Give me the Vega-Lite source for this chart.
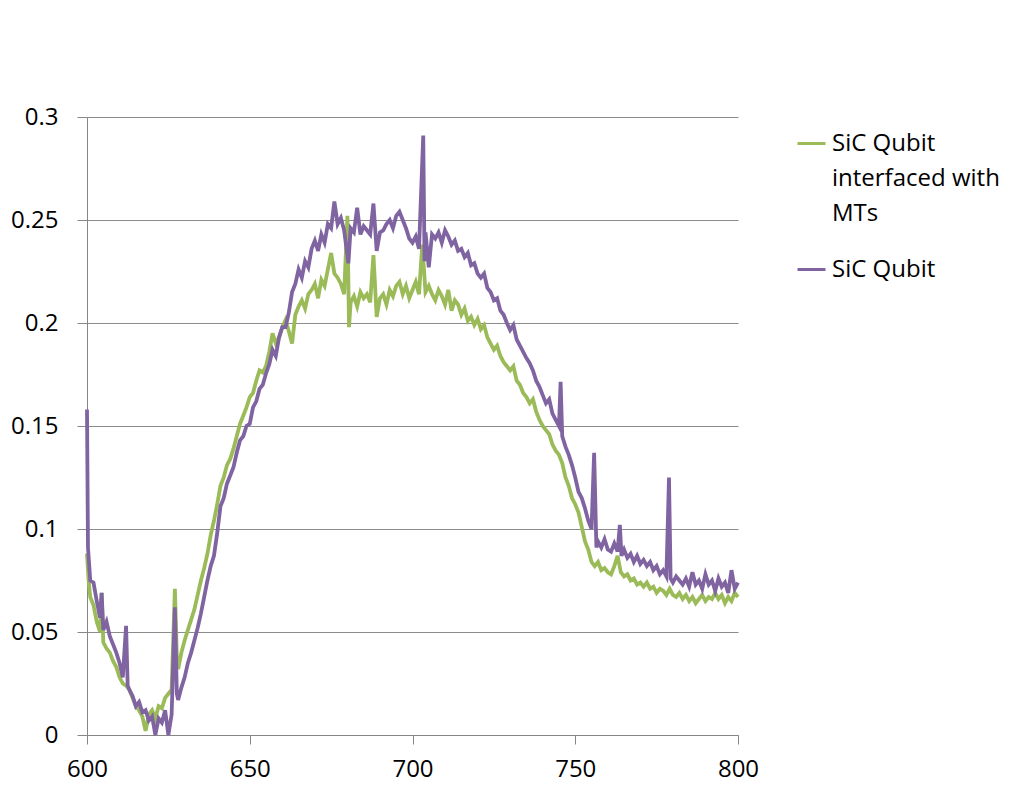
{
  "$schema": "https://vega.github.io/schema/vega-lite/v6.json",
  "width": 651,
  "height": 618,
  "autosize": {"type": "none"},
  "padding": {"left": 87, "top": 117, "right": 290, "bottom": 52},
  "background": "white",
  "config": {
    "view": {"stroke": null},
    "font": "Open Sans",
    "axis": {
      "labelFont": "Open Sans",
      "labelFontSize": 24,
      "labelColor": "#000000",
      "domainColor": "#868686",
      "tickColor": "#868686",
      "gridColor": "#8c8c8c",
      "title": null
    }
  },
  "encoding": {
    "x": {
      "field": "x",
      "type": "quantitative",
      "scale": {"domain": [600, 800], "nice": false, "zero": false},
      "axis": {"values": [600, 650, 700, 750, 800], "grid": false, "tickSize": 9, "labelPadding": 13, "labelFlush": false, "domainWidth": 1}
    },
    "y": {
      "field": "y",
      "type": "quantitative",
      "scale": {"domain": [0, 0.3], "nice": false},
      "axis": {"values": [0, 0.05, 0.1, 0.15, 0.2, 0.25, 0.3], "format": ".2~f", "grid": true, "tickSize": 10, "labelPadding": 19, "labelFlush": false, "domain": true}
    }
  },
  "layer": [
    {
      "data": {"values": [
        {"x":600,"y":0.088},{"x":600.5,"y":0.075},{"x":601,"y":0.067},{"x":602,"y":0.063},{"x":603,"y":0.055},{"x":604,"y":0.050},{"x":604.5,"y":0.069},{"x":605,"y":0.045},{"x":606,"y":0.042},{"x":607,"y":0.040},{"x":608,"y":0.036},{"x":609,"y":0.033},{"x":610,"y":0.028},{"x":611,"y":0.025},{"x":612,"y":0.024},{"x":613,"y":0.022},{"x":614,"y":0.018},{"x":615,"y":0.014},{"x":616,"y":0.012},{"x":617,"y":0.009},{"x":618,"y":0.002},{"x":619,"y":0.010},{"x":620,"y":0.012},{"x":621,"y":0.008},{"x":622,"y":0.014},{"x":623,"y":0.013},{"x":624,"y":0.018},{"x":625,"y":0.020},{"x":626,"y":0.022},{"x":627,"y":0.071},{"x":627.6,"y":0.038},{"x":628,"y":0.032},{"x":629,"y":0.040},{"x":630,"y":0.046},{"x":631,"y":0.051},{"x":632,"y":0.056},{"x":633,"y":0.061},{"x":634,"y":0.068},{"x":635,"y":0.075},{"x":636,"y":0.081},{"x":637,"y":0.088},{"x":638,"y":0.097},{"x":639,"y":0.104},{"x":640,"y":0.112},{"x":641,"y":0.121},{"x":642,"y":0.125},{"x":643,"y":0.131},{"x":644,"y":0.134},{"x":645,"y":0.139},{"x":646,"y":0.145},{"x":647,"y":0.151},{"x":648,"y":0.155},{"x":649,"y":0.159},{"x":650,"y":0.164},{"x":651,"y":0.166},{"x":652,"y":0.172},{"x":653,"y":0.177},{"x":654,"y":0.176},{"x":655,"y":0.179},{"x":656,"y":0.186},{"x":657,"y":0.195},{"x":658,"y":0.190},{"x":659,"y":0.193},{"x":660,"y":0.198},{"x":661,"y":0.2015},{"x":662,"y":0.196},{"x":663,"y":0.190},{"x":664,"y":0.204},{"x":665,"y":0.208},{"x":666,"y":0.211},{"x":667,"y":0.207},{"x":668,"y":0.214},{"x":669,"y":0.216},{"x":670,"y":0.219},{"x":671,"y":0.212},{"x":672,"y":0.221},{"x":673,"y":0.218},{"x":674,"y":0.226},{"x":675,"y":0.234},{"x":676,"y":0.224},{"x":677,"y":0.222},{"x":678,"y":0.219},{"x":679,"y":0.214},{"x":680,"y":0.252},{"x":680.5,"y":0.198},{"x":681,"y":0.210},{"x":682,"y":0.213},{"x":683,"y":0.208},{"x":684,"y":0.215},{"x":685,"y":0.212},{"x":686,"y":0.214},{"x":687,"y":0.210},{"x":688,"y":0.233},{"x":689,"y":0.203},{"x":690,"y":0.212},{"x":691,"y":0.214},{"x":692,"y":0.209},{"x":693,"y":0.216},{"x":694,"y":0.213},{"x":695,"y":0.218},{"x":696,"y":0.220},{"x":697,"y":0.214},{"x":698,"y":0.218},{"x":699,"y":0.212},{"x":700,"y":0.216},{"x":701,"y":0.220},{"x":702,"y":0.214},{"x":703,"y":0.238},{"x":704,"y":0.215},{"x":705,"y":0.218},{"x":706,"y":0.214},{"x":707,"y":0.211},{"x":708,"y":0.216},{"x":709,"y":0.213},{"x":710,"y":0.209},{"x":711,"y":0.216},{"x":712,"y":0.206},{"x":713,"y":0.211},{"x":714,"y":0.209},{"x":715,"y":0.204},{"x":716,"y":0.207},{"x":717,"y":0.201},{"x":718,"y":0.203},{"x":719,"y":0.199},{"x":720,"y":0.202},{"x":721,"y":0.197},{"x":722,"y":0.199},{"x":723,"y":0.193},{"x":724,"y":0.190},{"x":725,"y":0.187},{"x":726,"y":0.189},{"x":727,"y":0.184},{"x":728,"y":0.181},{"x":729,"y":0.179},{"x":730,"y":0.177},{"x":731,"y":0.179},{"x":732,"y":0.172},{"x":733,"y":0.170},{"x":734,"y":0.166},{"x":735,"y":0.164},{"x":736,"y":0.161},{"x":737,"y":0.163},{"x":738,"y":0.157},{"x":739,"y":0.153},{"x":740,"y":0.150},{"x":741,"y":0.148},{"x":742,"y":0.146},{"x":743,"y":0.141},{"x":744,"y":0.138},{"x":745,"y":0.136},{"x":746,"y":0.132},{"x":747,"y":0.125},{"x":748,"y":0.121},{"x":749,"y":0.115},{"x":750,"y":0.112},{"x":751,"y":0.108},{"x":752,"y":0.101},{"x":753,"y":0.094},{"x":754,"y":0.090},{"x":755,"y":0.084},{"x":756,"y":0.082},{"x":757,"y":0.084},{"x":758,"y":0.080},{"x":759,"y":0.081},{"x":760,"y":0.079},{"x":761,"y":0.078},{"x":762,"y":0.082},{"x":763,"y":0.087},{"x":764,"y":0.079},{"x":765,"y":0.077},{"x":766,"y":0.078},{"x":767,"y":0.075},{"x":768,"y":0.076},{"x":769,"y":0.073},{"x":770,"y":0.074},{"x":771,"y":0.072},{"x":772,"y":0.074},{"x":773,"y":0.071},{"x":774,"y":0.072},{"x":775,"y":0.069},{"x":776,"y":0.071},{"x":777,"y":0.070},{"x":778,"y":0.068},{"x":779,"y":0.071},{"x":780,"y":0.068},{"x":781,"y":0.067},{"x":782,"y":0.069},{"x":783,"y":0.066},{"x":784,"y":0.068},{"x":785,"y":0.065},{"x":786,"y":0.067},{"x":787,"y":0.064},{"x":788,"y":0.066},{"x":789,"y":0.068},{"x":790,"y":0.065},{"x":791,"y":0.067},{"x":792,"y":0.066},{"x":793,"y":0.069},{"x":794,"y":0.066},{"x":795,"y":0.068},{"x":796,"y":0.064},{"x":797,"y":0.067},{"x":798,"y":0.065},{"x":799,"y":0.069},{"x":800,"y":0.067}
      ]},
      "mark": {"type": "line", "strokeWidth": 3.8, "interpolate": "linear"},
      "encoding": {
        "color": {
          "datum": "SiC Qubit interfaced with MTs",
          "type": "nominal",
          "scale": {"domain": ["SiC Qubit interfaced with MTs", "SiC Qubit"], "range": ["#9BBB59", "#8064A2"]},
          "legend": {
            "orient": "none",
            "legendX": 709,
            "legendY": 11,
            "title": null,
            "padding": 0,
            "symbolType": "stroke",
            "symbolSize": 784,
            "symbolStrokeWidth": 3,
            "labelFont": "Open Sans",
            "labelFontSize": 24,
            "labelColor": "#000000",
            "labelOffset": 5,
            "labelLimit": 300,
            "rowPadding": 28,
            "labelExpr": "datum.label == 'SiC Qubit interfaced with MTs' ? ['SiC Qubit', 'interfaced with', 'MTs'] : datum.label",
            "encode": {"labels": {"update": {"lineHeight": {"value": 35}}}}
          }
        }
      }
    },
    {
      "data": {"values": [
        {"x":600,"y":0.158},{"x":600.3,"y":0.091},{"x":601,"y":0.075},{"x":602,"y":0.074},{"x":603,"y":0.065},{"x":604,"y":0.057},{"x":604.5,"y":0.069},{"x":605,"y":0.051},{"x":606,"y":0.055},{"x":607,"y":0.048},{"x":608,"y":0.044},{"x":609,"y":0.040},{"x":610,"y":0.035},{"x":611,"y":0.028},{"x":612,"y":0.053},{"x":612.5,"y":0.024},{"x":613,"y":0.022},{"x":614,"y":0.019},{"x":615,"y":0.014},{"x":616,"y":0.016},{"x":617,"y":0.011},{"x":618,"y":0.012},{"x":619,"y":0.007},{"x":620,"y":0.009},{"x":621,"y":0.000},{"x":622,"y":0.008},{"x":623,"y":0.006},{"x":624,"y":0.012},{"x":625,"y":0.000},{"x":626,"y":0.010},{"x":627,"y":0.062},{"x":627.6,"y":0.020},{"x":628,"y":0.017},{"x":629,"y":0.023},{"x":630,"y":0.028},{"x":631,"y":0.035},{"x":632,"y":0.040},{"x":633,"y":0.046},{"x":634,"y":0.052},{"x":635,"y":0.059},{"x":636,"y":0.067},{"x":637,"y":0.075},{"x":638,"y":0.082},{"x":639,"y":0.087},{"x":640,"y":0.098},{"x":641,"y":0.111},{"x":642,"y":0.115},{"x":643,"y":0.122},{"x":644,"y":0.126},{"x":645,"y":0.130},{"x":646,"y":0.137},{"x":647,"y":0.143},{"x":648,"y":0.145},{"x":649,"y":0.150},{"x":650,"y":0.151},{"x":651,"y":0.159},{"x":652,"y":0.162},{"x":653,"y":0.168},{"x":654,"y":0.170},{"x":655,"y":0.1755},{"x":656,"y":0.180},{"x":657,"y":0.187},{"x":658,"y":0.184},{"x":659,"y":0.193},{"x":660,"y":0.198},{"x":661,"y":0.198},{"x":662,"y":0.205},{"x":663,"y":0.215},{"x":664,"y":0.219},{"x":665,"y":0.226},{"x":666,"y":0.222},{"x":667,"y":0.230},{"x":668,"y":0.227},{"x":669,"y":0.236},{"x":670,"y":0.240},{"x":671,"y":0.235},{"x":672,"y":0.243},{"x":673,"y":0.239},{"x":674,"y":0.248},{"x":675,"y":0.246},{"x":676,"y":0.259},{"x":677,"y":0.248},{"x":678,"y":0.251},{"x":679,"y":0.245},{"x":680.3,"y":0.229},{"x":681,"y":0.246},{"x":682,"y":0.244},{"x":683,"y":0.256},{"x":684,"y":0.243},{"x":685,"y":0.247},{"x":686,"y":0.245},{"x":687,"y":0.243},{"x":688,"y":0.258},{"x":689,"y":0.235},{"x":690,"y":0.244},{"x":691,"y":0.245},{"x":692,"y":0.248},{"x":693,"y":0.250},{"x":694,"y":0.246},{"x":695,"y":0.252},{"x":696,"y":0.254},{"x":697,"y":0.250},{"x":698,"y":0.246},{"x":699,"y":0.241},{"x":700,"y":0.239},{"x":701,"y":0.242},{"x":702,"y":0.236},{"x":703.3,"y":0.291},{"x":703.7,"y":0.230},{"x":704,"y":0.244},{"x":705,"y":0.227},{"x":706,"y":0.243},{"x":707,"y":0.241},{"x":708,"y":0.244},{"x":709,"y":0.239},{"x":710,"y":0.245},{"x":711,"y":0.242},{"x":712,"y":0.238},{"x":713,"y":0.240},{"x":714,"y":0.235},{"x":715,"y":0.236},{"x":716,"y":0.232},{"x":717,"y":0.234},{"x":718,"y":0.228},{"x":719,"y":0.229},{"x":720,"y":0.224},{"x":721,"y":0.222},{"x":722,"y":0.224},{"x":723,"y":0.217},{"x":724,"y":0.215},{"x":725,"y":0.211},{"x":726,"y":0.212},{"x":727,"y":0.206},{"x":728,"y":0.204},{"x":729,"y":0.200},{"x":730,"y":0.1966},{"x":731,"y":0.199},{"x":732,"y":0.192},{"x":733,"y":0.189},{"x":734,"y":0.186},{"x":735,"y":0.183},{"x":736,"y":0.1805},{"x":737,"y":0.177},{"x":738,"y":0.172},{"x":739,"y":0.169},{"x":740,"y":0.165},{"x":741,"y":0.161},{"x":742,"y":0.163},{"x":743,"y":0.156},{"x":744,"y":0.153},{"x":745,"y":0.150},{"x":745.5,"y":0.1715},{"x":746,"y":0.145},{"x":747,"y":0.140},{"x":748,"y":0.136},{"x":749,"y":0.131},{"x":750,"y":0.125},{"x":751,"y":0.118},{"x":752,"y":0.115},{"x":753,"y":0.110},{"x":754,"y":0.104},{"x":755,"y":0.100},{"x":755.8,"y":0.137},{"x":756.5,"y":0.091},{"x":757,"y":0.094},{"x":758,"y":0.091},{"x":759,"y":0.095},{"x":760,"y":0.090},{"x":761,"y":0.089},{"x":762,"y":0.093},{"x":763,"y":0.089},{"x":763.7,"y":0.102},{"x":764.2,"y":0.087},{"x":765,"y":0.090},{"x":766,"y":0.086},{"x":767,"y":0.088},{"x":768,"y":0.084},{"x":769,"y":0.087},{"x":770,"y":0.083},{"x":771,"y":0.085},{"x":772,"y":0.082},{"x":773,"y":0.084},{"x":774,"y":0.080},{"x":775,"y":0.082},{"x":776,"y":0.078},{"x":777,"y":0.080},{"x":778,"y":0.077},{"x":778.8,"y":0.125},{"x":779.3,"y":0.076},{"x":780,"y":0.074},{"x":781,"y":0.077},{"x":782,"y":0.075},{"x":783,"y":0.073},{"x":784,"y":0.076},{"x":785,"y":0.072},{"x":786,"y":0.079},{"x":787,"y":0.073},{"x":788,"y":0.075},{"x":789,"y":0.071},{"x":790,"y":0.078},{"x":791,"y":0.073},{"x":792,"y":0.075},{"x":793,"y":0.070},{"x":794,"y":0.076},{"x":795,"y":0.072},{"x":796,"y":0.074},{"x":797,"y":0.069},{"x":798,"y":0.080},{"x":799,"y":0.071},{"x":800,"y":0.074}
      ]},
      "mark": {"type": "line", "strokeWidth": 3.8, "interpolate": "linear"},
      "encoding": {
        "color": {"datum": "SiC Qubit", "type": "nominal"}
      }
    }
  ]
}
